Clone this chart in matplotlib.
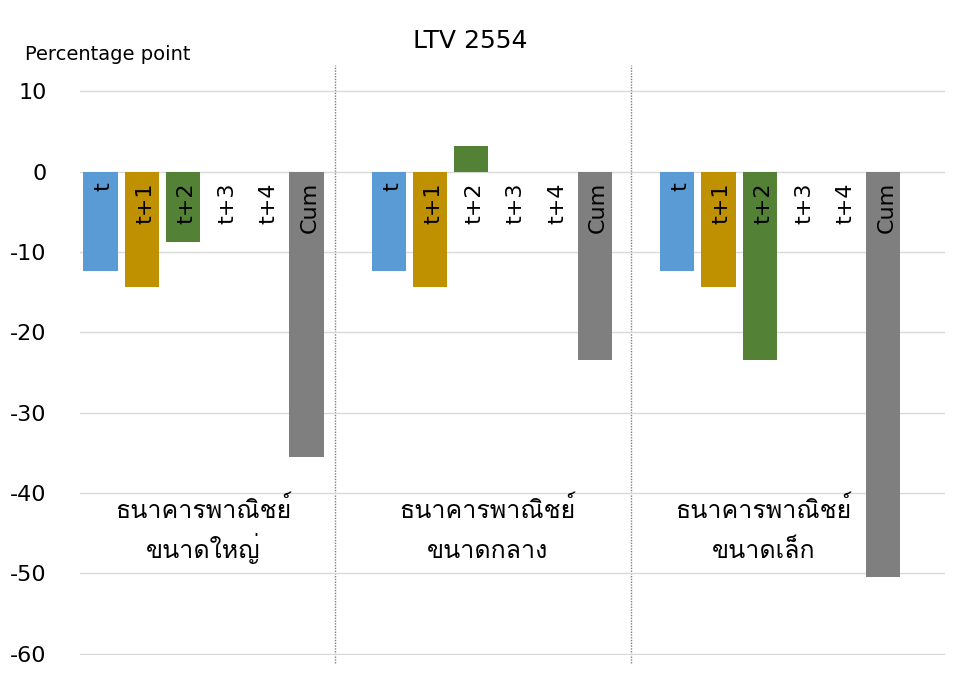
import matplotlib
matplotlib.use('Agg')
import matplotlib.pyplot as plt
from matplotlib import font_manager
from matplotlib.ft2font import FT2Font

# ข้อมูล
periods = ['t', 't+1', 't+2', 't+3', 't+4', 'Cum']
bank_line1 = ['ธนาคารพาณิชย์', 'ธนาคารพาณิชย์', 'ธนาคารพาณิชย์']
bank_line2 = ['ขนาดใหญ่', 'ขนาดกลาง', 'ขนาดเล็ก']
large = [-12.4, -14.3, -8.8, 0, 0, -35.5]
medium = [-12.4, -14.3, 3.2, 0, 0, -23.5]
small = [-12.4, -14.3, -23.5, 0, 0, -50.4]
yticks = [10, 0, -10, -20, -30, -40, -50, -60]

colors = ['#5B9BD5', '#BF9000', '#538135', '#A5A5A5', '#FFC000', '#7F7F7F']


def find_thai_font():
    # หาฟอนต์ที่มีตัวอักษรไทย
    for f in font_manager.fontManager.ttflist:
        try:
            if 0x0E18 in FT2Font(f.fname).get_charmap():
                return f.name
        except Exception:
            pass
    return 'DejaVu Sans'


thai_font = find_thai_font()
plt.rcParams['axes.unicode_minus'] = False

fig = plt.figure(figsize=(9.6, 6.82), dpi=100)
ax = fig.add_axes([0.0833, 0.0395, 0.9011, 0.8285])

label_x = [2.5, 2.4, 2.1]
for g, vals in enumerate([large, medium, small]):
    for i, v in enumerate(vals):
        x = g * 7 + i
        if v != 0:
            ax.bar(x, v, width=0.83, color=colors[i], zorder=2)
        ax.text(x + 0.08, -1.3, periods[i], rotation=90, ha='center', va='top',
                fontsize=16, zorder=3)
    cx = g * 7 + label_x[g]
    ax.text(cx, -43.1, bank_line1[g], ha='center', va='baseline',
            fontsize=18, family=[thai_font, 'DejaVu Sans'])
    ax.text(cx, -48.1, bank_line2[g], ha='center', va='baseline',
            fontsize=18, family=[thai_font, 'DejaVu Sans'])

# เส้นแบ่งกลุ่ม
for xd in [5.69, 12.87]:
    ax.axvline(xd, ymin=-0.014, ymax=1.044, color='#7f7f7f', linestyle=(0, (1, 1)),
               lw=1, clip_on=False, zorder=1)

ax.set_xlim(-0.5, 20.5)
ax.set_ylim(-60.15, 10.15)
ax.set_yticks(yticks)
ax.set_xticks([])
ax.tick_params(axis='y', length=0, pad=24, labelsize=16)
ax.yaxis.grid(True, color='#d9d9d9', lw=1, zorder=0)
for s in ax.spines.values():
    s.set_visible(False)

fig.text(0.026, 0.92, 'Percentage point', fontsize=14, va='center', ha='left')
fig.text(0.49, 0.94, 'LTV 2554', fontsize=18, va='center', ha='center')

fig.savefig('out.png', dpi=100)
